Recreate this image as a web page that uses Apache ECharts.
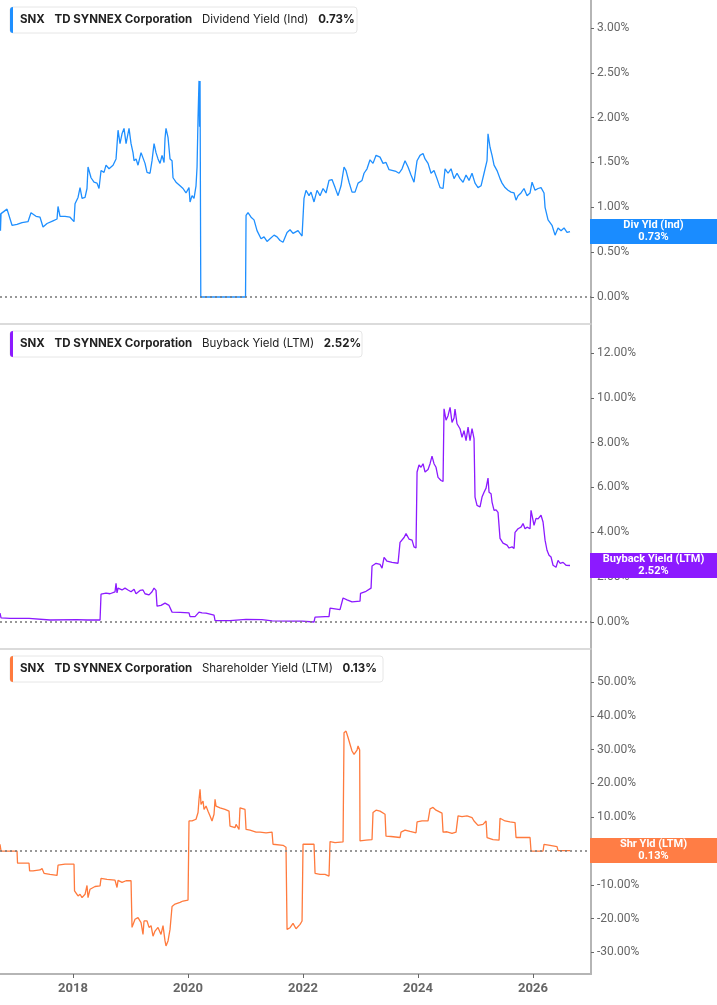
<!DOCTYPE html>
<html>
<head>
<meta charset="utf-8">
<script src="https://cdn.jsdelivr.net/npm/echarts@6/dist/echarts.min.js"></script>
<style>
  html, body { margin: 0; padding: 0; background: #fff; }
  #chart { width: 717px; height: 1005px; }
</style>
</head>
<body>
<div id="chart"></div>
<script>
// x values are decimal years, y values in percent
var yearTicks = [2018, 2020, 2022, 2024, 2026];
var divTicks = [0, 0.5, 1, 1.5, 2, 2.5, 3];
var buyTicks = [0, 2, 4, 6, 8, 10, 12];
var shrTicks = [-30, -20, -10, 0, 10, 20, 30, 40, 50];

var divYield = [
  [2016.730, 0.93], [2016.738, 0.74], [2016.748, 0.93], [2016.765, 0.93], [2016.852, 0.98], [2016.939, 0.80],
  [2017.026, 0.81], [2017.113, 0.83], [2017.217, 0.84], [2017.269, 0.94], [2017.357, 0.90], [2017.426, 0.89],
  [2017.478, 0.78], [2017.548, 0.82], [2017.652, 0.85], [2017.722, 0.87], [2017.739, 1.01], [2017.774, 0.90],
  [2017.861, 0.90], [2017.948, 0.89], [2018.017, 0.84], [2018.035, 1.04], [2018.087, 1.11], [2018.122, 1.22],
  [2018.157, 1.10], [2018.209, 1.11], [2018.243, 1.21], [2018.261, 1.45], [2018.313, 1.33], [2018.365, 1.28],
  [2018.417, 1.27], [2018.452, 1.21], [2018.487, 1.41], [2018.539, 1.39], [2018.574, 1.47], [2018.626, 1.43],
  [2018.696, 1.47], [2018.748, 1.54], [2018.783, 1.86], [2018.817, 1.71], [2018.852, 1.82], [2018.887, 1.88],
  [2018.922, 1.71], [2018.974, 1.88], [2019.009, 1.71], [2019.043, 1.61], [2019.061, 1.52], [2019.096, 1.54],
  [2019.130, 1.47], [2019.183, 1.61], [2019.217, 1.63], [2019.252, 1.49], [2019.287, 1.39], [2019.339, 1.38],
  [2019.374, 1.52], [2019.409, 1.71], [2019.443, 1.61], [2019.478, 1.54], [2019.513, 1.49], [2019.548, 1.58],
  [2019.583, 1.50], [2019.600, 1.77], [2019.617, 1.88], [2019.652, 1.78], [2019.687, 1.54], [2019.722, 1.52],
  [2019.739, 1.33], [2019.791, 1.28], [2019.861, 1.24], [2019.913, 1.21], [2019.965, 1.16], [2020.017, 1.22],
  [2020.035, 1.06], [2020.070, 1.13], [2020.104, 1.10], [2020.139, 1.24], [2020.157, 1.45], [2020.174, 2.00],
  [2020.191, 2.41], [2020.200, 1.90], [2020.209, 2.41], [2020.222, 0.00], [2021.000, 0.00], [2021.009, 0.91],
  [2021.043, 0.94], [2021.096, 0.89], [2021.148, 0.86], [2021.200, 0.74], [2021.270, 0.65], [2021.322, 0.67],
  [2021.374, 0.62], [2021.426, 0.65], [2021.496, 0.69], [2021.548, 0.67], [2021.600, 0.63], [2021.652, 0.61],
  [2021.722, 0.72], [2021.774, 0.75], [2021.826, 0.71], [2021.913, 0.74], [2021.983, 0.68], [2022.000, 0.70],
  [2022.017, 1.10], [2022.052, 1.19], [2022.104, 1.13], [2022.139, 1.17], [2022.191, 1.06], [2022.243, 1.19],
  [2022.296, 1.13], [2022.348, 1.21], [2022.400, 1.16], [2022.452, 1.30], [2022.504, 1.31], [2022.557, 1.22],
  [2022.609, 1.13], [2022.661, 1.24], [2022.713, 1.45], [2022.748, 1.41], [2022.800, 1.28], [2022.852, 1.17],
  [2022.904, 1.17], [2022.957, 1.27], [2023.026, 1.30], [2023.061, 1.38], [2023.113, 1.43], [2023.165, 1.53],
  [2023.217, 1.49], [2023.270, 1.58], [2023.339, 1.56], [2023.391, 1.49], [2023.443, 1.50], [2023.496, 1.42],
  [2023.565, 1.41], [2023.617, 1.40], [2023.670, 1.38], [2023.722, 1.43], [2023.774, 1.52], [2023.826, 1.45],
  [2023.878, 1.36], [2023.930, 1.28], [2023.983, 1.52], [2024.035, 1.58], [2024.087, 1.60], [2024.122, 1.54],
  [2024.174, 1.49], [2024.226, 1.38], [2024.278, 1.41], [2024.330, 1.32], [2024.383, 1.22], [2024.435, 1.21],
  [2024.470, 1.43], [2024.522, 1.38], [2024.574, 1.43], [2024.626, 1.32], [2024.678, 1.38], [2024.730, 1.32],
  [2024.783, 1.28], [2024.835, 1.36], [2024.887, 1.30], [2024.939, 1.38], [2024.991, 1.27], [2025.043, 1.22],
  [2025.096, 1.24], [2025.148, 1.38], [2025.200, 1.52], [2025.217, 1.82], [2025.252, 1.67], [2025.287, 1.58],
  [2025.322, 1.47], [2025.374, 1.41], [2025.426, 1.32], [2025.461, 1.27], [2025.513, 1.22], [2025.565, 1.19],
  [2025.617, 1.17], [2025.670, 1.16], [2025.704, 1.08], [2025.739, 1.13], [2025.791, 1.16], [2025.843, 1.21],
  [2025.896, 1.13], [2025.948, 1.16], [2025.983, 1.28], [2026.035, 1.19], [2026.087, 1.21], [2026.139, 1.22],
  [2026.191, 1.16], [2026.209, 1.00], [2026.261, 0.86], [2026.330, 0.80], [2026.383, 0.69], [2026.435, 0.77],
  [2026.487, 0.74], [2026.539, 0.77], [2026.591, 0.72], [2026.643, 0.73]
];

var buybackYield = [
  [2016.730, 0.40], [2016.748, 0.18], [2016.904, 0.16], [2017.235, 0.16], [2017.245, 0.09], [2017.600, 0.09],
  [2018.070, 0.11], [2018.243, 0.09], [2018.470, 0.09], [2018.487, 1.24], [2018.574, 1.29], [2018.643, 1.26],
  [2018.730, 1.34], [2018.748, 1.72], [2018.765, 1.30], [2018.783, 1.51], [2018.852, 1.43], [2018.904, 1.51],
  [2018.956, 1.43], [2019.009, 1.35], [2019.061, 1.46], [2019.096, 1.26], [2019.165, 1.41], [2019.217, 1.43],
  [2019.252, 1.26], [2019.322, 1.21], [2019.374, 1.35], [2019.409, 1.51], [2019.443, 1.41], [2019.461, 0.71],
  [2019.530, 0.74], [2019.600, 0.84], [2019.670, 0.74], [2019.722, 0.44], [2019.861, 0.43], [2020.017, 0.41],
  [2020.035, 0.24], [2020.122, 0.24], [2020.191, 0.44], [2020.243, 0.41], [2020.313, 0.40], [2020.452, 0.31],
  [2020.470, 0.06], [2020.730, 0.06], [2020.748, 0.03], [2021.009, 0.12], [2021.287, 0.11], [2021.461, 0.05],
  [2021.774, 0.04], [2021.983, 0.04], [2022.017, 0.00], [2022.191, 0.00], [2022.209, 0.22], [2022.383, 0.24],
  [2022.452, 0.24], [2022.470, 0.62], [2022.643, 0.55], [2022.696, 1.07], [2022.765, 0.99], [2022.852, 0.90],
  [2022.991, 0.93], [2023.000, 1.28], [2023.096, 1.37], [2023.183, 1.51], [2023.200, 2.50], [2023.270, 2.62],
  [2023.339, 2.57], [2023.374, 2.40], [2023.409, 2.88], [2023.461, 2.71], [2023.548, 2.66], [2023.652, 2.62],
  [2023.687, 3.55], [2023.757, 3.77], [2023.791, 3.94], [2023.843, 3.70], [2023.896, 3.65], [2023.930, 3.35],
  [2023.965, 3.30], [2023.983, 6.69], [2024.017, 7.00], [2024.052, 6.90], [2024.087, 7.06], [2024.122, 6.69],
  [2024.174, 6.80], [2024.209, 7.06], [2024.243, 7.40], [2024.278, 7.06], [2024.313, 6.90], [2024.348, 6.45],
  [2024.400, 6.31], [2024.435, 6.27], [2024.452, 9.51], [2024.487, 9.00], [2024.522, 9.20], [2024.557, 9.57],
  [2024.591, 8.90], [2024.626, 9.10], [2024.643, 9.50], [2024.678, 8.84], [2024.730, 8.62], [2024.765, 8.24],
  [2024.800, 8.53], [2024.835, 8.09], [2024.870, 8.69], [2024.904, 8.09], [2024.939, 8.62], [2024.974, 8.18],
  [2024.991, 5.57], [2025.026, 5.20], [2025.078, 5.13], [2025.113, 5.57], [2025.148, 5.79], [2025.183, 5.97],
  [2025.217, 6.42], [2025.235, 5.79], [2025.270, 5.72], [2025.287, 5.35], [2025.322, 4.98], [2025.357, 5.00],
  [2025.391, 4.89], [2025.426, 3.73], [2025.478, 3.52], [2025.548, 3.43], [2025.583, 3.30], [2025.635, 3.35],
  [2025.670, 3.28], [2025.687, 4.00], [2025.739, 4.16], [2025.791, 4.23], [2025.826, 4.39], [2025.861, 4.16],
  [2025.896, 4.23], [2025.948, 4.16], [2025.965, 4.98], [2025.983, 4.76], [2026.017, 4.31], [2026.052, 4.62],
  [2026.087, 4.60], [2026.139, 4.76], [2026.174, 4.46], [2026.209, 3.65], [2026.243, 3.20], [2026.278, 2.98],
  [2026.313, 2.90], [2026.348, 2.53], [2026.400, 2.44], [2026.435, 2.75], [2026.470, 2.62], [2026.522, 2.66],
  [2026.574, 2.53], [2026.643, 2.52]
];

var shrYield = [
  [2016.730, 2.0], [2016.748, 0.0], [2017.026, 0.0], [2017.035, -3.6], [2017.235, -3.6], [2017.245, -5.9],
  [2017.304, -5.9], [2017.426, -5.6], [2017.461, -5.2], [2017.496, -6.6], [2017.600, -6.9], [2017.722, -7.2],
  [2017.739, -4.2], [2017.861, -3.9], [2018.017, -3.9], [2018.026, -11.8], [2018.087, -13.3], [2018.122, -12.8],
  [2018.157, -13.8], [2018.209, -12.8], [2018.243, -10.2], [2018.261, -13.8], [2018.296, -11.3], [2018.383, -10.5],
  [2018.470, -10.3], [2018.487, -8.1], [2018.591, -8.4], [2018.730, -8.6], [2018.765, -10.8], [2018.783, -8.7],
  [2018.852, -9.3], [2018.922, -8.8], [2019.009, -8.8], [2019.026, -22.6], [2019.078, -20.2], [2019.130, -19.7],
  [2019.183, -21.2], [2019.217, -24.7], [2019.235, -20.7], [2019.287, -20.7], [2019.322, -22.6], [2019.357, -22.1],
  [2019.391, -25.2], [2019.426, -23.7], [2019.478, -22.6], [2019.530, -24.7], [2019.565, -22.1], [2019.600, -26.6],
  [2019.617, -28.1], [2019.652, -26.6], [2019.687, -23.2], [2019.722, -16.4], [2019.774, -15.7], [2019.861, -15.2],
  [2019.913, -14.8], [2020.000, -14.5], [2020.017, 8.9], [2020.070, 8.9], [2020.139, 9.4], [2020.174, 11.4],
  [2020.191, 15.3], [2020.209, 18.3], [2020.226, 13.8], [2020.261, 14.8], [2020.278, 12.3], [2020.313, 13.3],
  [2020.348, 11.8], [2020.383, 10.4], [2020.417, 8.9], [2020.452, 10.9], [2020.470, 15.3], [2020.487, 13.3],
  [2020.557, 12.8], [2020.643, 12.3], [2020.713, 11.8], [2020.730, 7.4], [2020.817, 6.9], [2020.835, 7.9],
  [2020.887, 6.4], [2020.904, 12.8], [2020.991, 12.3], [2021.009, 6.4], [2021.078, 6.2], [2021.183, 5.6],
  [2021.252, 5.6], [2021.357, 5.4], [2021.461, 5.6], [2021.478, 2.0], [2021.652, 1.7], [2021.704, 1.1],
  [2021.722, -23.2], [2021.774, -22.7], [2021.826, -21.4], [2021.878, -23.0], [2021.948, -21.7], [2021.983, -20.7],
  [2022.000, 2.0], [2022.191, 2.0], [2022.209, -6.6], [2022.296, -6.9], [2022.383, -6.9], [2022.452, -7.4],
  [2022.470, 2.8], [2022.557, 2.5], [2022.696, 2.7], [2022.713, 35.0], [2022.748, 35.5], [2022.783, 33.6],
  [2022.817, 31.6], [2022.852, 29.6], [2022.887, 28.6], [2022.939, 29.9], [2022.957, 31.1], [2022.985, 29.9],
  [2022.991, 3.0], [2023.096, 3.2], [2023.200, 3.4], [2023.217, 11.4], [2023.270, 12.1], [2023.339, 11.8],
  [2023.426, 10.9], [2023.443, 4.4], [2023.530, 4.3], [2023.687, 4.0], [2023.704, 5.6], [2023.774, 6.2],
  [2023.861, 5.8], [2023.965, 5.4], [2023.983, 8.6], [2024.070, 8.9], [2024.174, 8.9], [2024.209, 12.5],
  [2024.261, 12.9], [2024.313, 12.1], [2024.417, 11.2], [2024.435, 5.6], [2024.504, 5.7], [2024.591, 5.2],
  [2024.661, 5.6], [2024.696, 10.4], [2024.765, 10.2], [2024.852, 10.4], [2024.939, 9.9], [2024.974, 8.9],
  [2025.043, 7.6], [2025.130, 7.9], [2025.183, 8.9], [2025.200, 4.0], [2025.304, 3.4], [2025.409, 3.2],
  [2025.426, 9.7], [2025.513, 8.9], [2025.600, 8.6], [2025.687, 8.4], [2025.704, 4.0], [2025.809, 4.0],
  [2025.948, 4.0], [2025.965, 0.0], [2026.174, 0.0], [2026.191, 2.0], [2026.296, 1.7], [2026.417, 1.3],
  [2026.435, 0.1], [2026.643, 0.13]
];

var panels = [
  { name: 'Dividend Yield (Ind)', badge: 'Div Yld (Ind)', last: 0.73, data: divYield, ticks: divTicks,
    color: '#1e8fff', badgeColor: '#1a8cff', min: -0.301, max: 3.312, top: 0, height: 324, boxW: 347 },
  { name: 'Buyback Yield (LTM)', badge: 'Buyback Yield (LTM)', last: 2.52, data: buybackYield, ticks: buyTicks,
    color: '#8c1aff', badgeColor: '#8c1aff', min: -1.204, max: 13.29, top: 324, height: 325, boxW: 352 },
  { name: 'Shareholder Yield (LTM)', badge: 'Shr Yld (LTM)', last: 0.13, data: shrYield, ticks: shrTicks,
    color: '#ff7a3d', badgeColor: '#ff7d45', min: -36.4, max: 59.8, top: 649, height: 325, boxW: 373 }
];

var xMin = 2016.73, xMax = 2027.008;
var chart = echarts.init(document.getElementById('chart'));

var grids = [], xAxes = [], yAxes = [], series = [], graphics = [];

panels.forEach(function (p, i) {
  var last = i === panels.length - 1;
  grids.push({ left: 0, right: 126, top: p.top, height: p.height });
  xAxes.push({
    type: 'value', gridIndex: i, min: xMin, max: xMax,
    axisLine: { show: true, onZero: false, lineStyle: { color: last ? '#b5b5b5' : '#d0d0d0', width: last ? 2 : 1.5 } },
    axisTick: { show: last, length: 4, lineStyle: { color: '#666' }, customValues: yearTicks },
    axisLabel: {
      show: last, customValues: yearTicks, margin: 8, color: '#666', fontSize: 13, fontWeight: 'bold',
      fontFamily: 'Roboto', formatter: function (v) { return String(v); }
    },
    splitLine: { show: false }
  });
  yAxes.push({
    type: 'value', gridIndex: i, position: 'right', min: p.min, max: p.max,
    axisLine: { show: true, onZero: false, lineStyle: { color: '#b5b5b5', width: 2 } },
    axisTick: { show: true, length: 3, lineStyle: { color: '#666' }, customValues: p.ticks },
    axisLabel: {
      customValues: p.ticks, margin: 6, color: '#666', fontSize: 12, fontFamily: 'Roboto',
      formatter: function (v) { return v.toFixed(2) + '%'; }
    },
    splitLine: { show: false }
  });
  series.push({
    type: 'line', xAxisIndex: i, yAxisIndex: i, data: p.data, showSymbol: false,
    lineStyle: { color: p.color, width: 1.3 }, itemStyle: { color: p.color }, z: 3,
    markLine: {
      silent: true, symbol: ['none', 'none'], animation: false,
      data: [{ yAxis: 0, lineStyle: { type: [2, 3], color: '#777', width: 1.5 }, label: { show: false } }]
    }
  });
  var hy = p.top + 7;
  graphics.push({
    type: 'rect', shape: { x: 10, y: hy, width: p.boxW, height: 26, r: 3 },
    style: { fill: '#fff', stroke: '#e6e6e6', lineWidth: 1 }, z: 10
  });
  graphics.push({
    type: 'rect', shape: { x: 10, y: hy, width: 3, height: 26, r: [3, 0, 0, 3] },
    style: { fill: p.color }, z: 11
  });
  graphics.push({
    type: 'text', x: 20, y: hy + 13, z: 11,
    style: {
      text: '{b|SNX}   {b|TD SYNNEX Corporation}   {n|' + p.name + '}   {b|' + p.last.toFixed(2) + '%}',
      verticalAlign: 'middle', fontFamily: 'Inter', fontSize: 11.5,
      rich: {
        b: { fontFamily: 'Inter', fontSize: 11.5, fontWeight: 'bold', fill: '#222' },
        n: { fontFamily: 'Inter', fontSize: 11.5, fill: '#222' }
      }
    }
  });
});

chart.setOption({
  animation: false,
  backgroundColor: '#fff',
  grid: grids,
  xAxis: xAxes,
  yAxis: yAxes,
  series: series,
  graphic: graphics
});

// value badges on the right axis, placed through the axis scales
var badges = [];
panels.forEach(function (p, i) {
  var bx = chart.convertToPixel({ xAxisIndex: i }, xMax) - 1;
  var by = chart.convertToPixel({ yAxisIndex: i }, p.last);
  badges.push({
    type: 'rect', shape: { x: bx, y: by - 12.5, width: 717 - bx, height: 25 },
    style: { fill: p.badgeColor }, z: 20
  });
  badges.push({
    type: 'text', x: bx + (717 - bx) / 2, y: by, z: 21,
    style: {
      text: p.badge + '\n' + p.last.toFixed(2) + '%', align: 'center', verticalAlign: 'middle',
      fill: '#fff', fontFamily: 'Roboto', fontWeight: 'bold', fontSize: 11, lineHeight: 12
    }
  });
});
chart.setOption({ graphic: graphics.concat(badges) });
</script>
</body>
</html>
